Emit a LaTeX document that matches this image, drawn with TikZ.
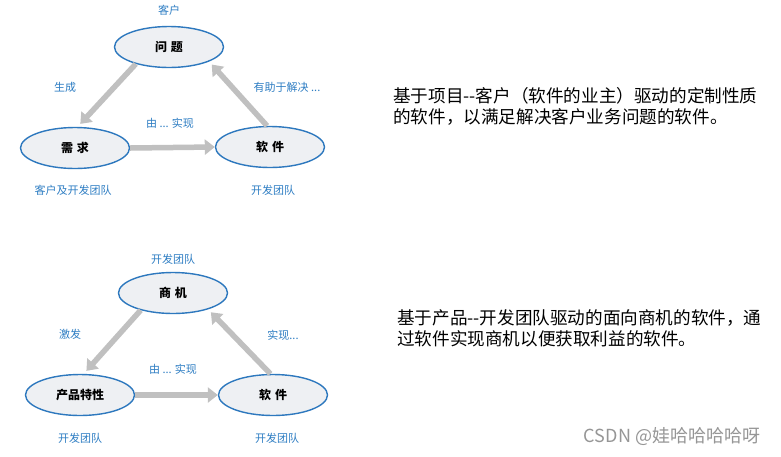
\documentclass[tikz,border=0pt]{standalone}
\usepackage{fontspec}
\setmainfont{Liberation Sans}
\newfontfamily\cjk{Noto Sans CJK SC}
\usetikzlibrary{arrows.meta,shapes.geometric}
\definecolor{lblue}{RGB}{45,125,195}
\definecolor{efill}{RGB}{238,240,243}
\definecolor{eborder}{RGB}{45,120,190}
\definecolor{agray}{RGB}{192,192,192}
\definecolor{wgray}{RGB}{150,150,150}
\tikzset{
  ell/.style={ellipse, draw=eborder, fill=efill, line width=1.4pt, inner sep=0pt,
    minimum width=109pt, minimum height=41pt, font=\cjk\bfseries\fontsize{12}{14}\selectfont},
  lbl/.style={text=lblue, inner sep=0pt, font=\cjk\fontsize{11}{13}\selectfont},
  flow/.style={draw=agray, line width=5.5pt, -{Triangle[length=10pt,width=15pt]}},
  para/.style={anchor=west, align=left, inner sep=0pt, font=\cjk\fontsize{17.6}{21}\selectfont},
}
\begin{document}
\begin{tikzpicture}[x=1pt,y=-1pt]
\useasboundingbox[fill=white] (0,0) rectangle (781,456);
% top diagram
\node[ell] (q) at (169,47) {问\hspace{4pt}题};
\node[ell] (x) at (75,148) {需\hspace{4pt}求};
\node[ell] (s) at (270,147) {软\hspace{4pt}件};
\draw[flow, shorten >=4pt] (q.207) -- (x.83);
\draw[flow, shorten >=4pt] (s.98) -- (q.340);
\draw[flow] (x.east) -- (s.west);
\node[lbl] (l1) at (169,10) {客户};
\node[lbl] (l2) at (65,87) {生成};
\node[lbl] (l3) at (287,87) {有助于解决 ...};
\node[lbl] (l4) at (170,123) {由 ... 实现};
\node[lbl] (l5) at (73,190) {客户及开发团队};
\node[lbl] (l6) at (273,190) {开发团队};
% bottom diagram
\node[ell] (m) at (173,293) {商\hspace{4pt}机};
\node[ell] (p) at (80,395) {产品特性};
\node[ell] (s2) at (273,395) {软\hspace{4pt}件};
\draw[flow, shorten >=4pt] (m.208) -- (p.80);
\draw[flow, shorten >=4pt] (s2.97) -- (m.335);
\draw[flow] (p.east) -- (s2.west);
\node[lbl] (k1) at (173,259) {开发团队};
\node[lbl] (k2) at (70,334) {激发};
\node[lbl] (k3) at (283,335) {实现...};
\node[lbl] (k4) at (173,369) {由 ... 实现};
\node[lbl] (k5) at (80,438) {开发团队};
\node[lbl] (k6) at (277,438) {开发团队};
% right texts
\node[para] (t1) at (393,106) {基于项目--客户（软件的业主）驱动的定制性质\\的软件，以满足解决客户业务问题的软件。};
\node[para] (t2) at (397,328) {基于产品--开发团队驱动的面向商机的软件，通\\过软件实现商机以便获取利益的软件。};
\node[text=wgray, inner sep=0pt, font=\cjk\fontsize{18}{20}\selectfont] (w) at (672,437) {CSDN @娃哈哈哈哈呀};
\end{tikzpicture}
\end{document}
